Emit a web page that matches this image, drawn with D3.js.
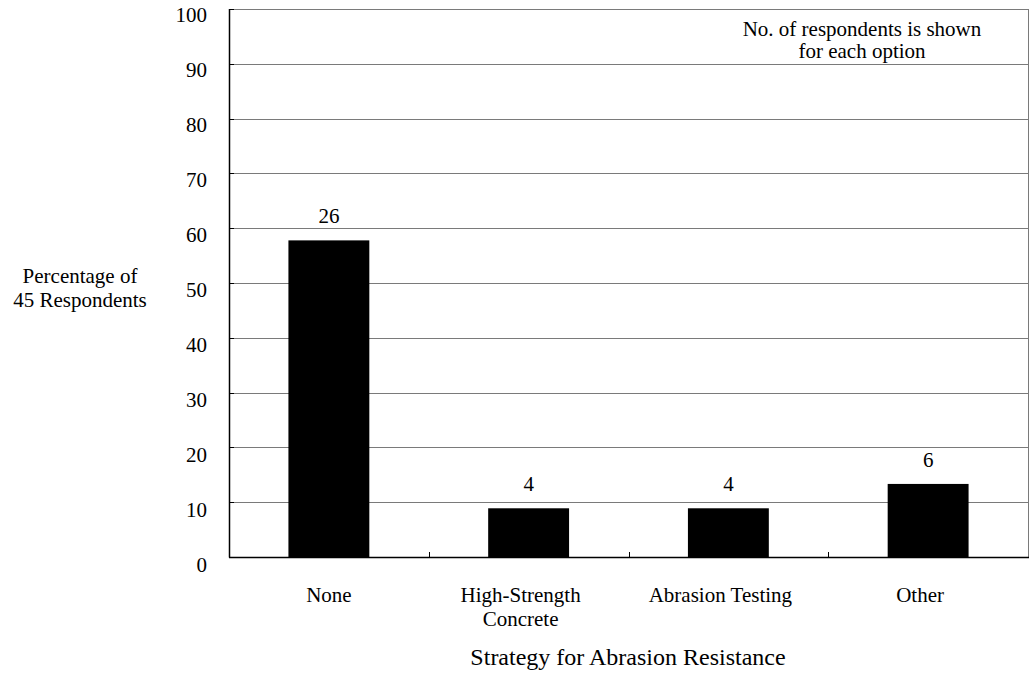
<!DOCTYPE html>
<html><head><meta charset="utf-8">
<script src="https://cdn.jsdelivr.net/npm/d3@7"></script>
<style>
body{margin:0;background:#fff;}
</style></head>
<body><svg id="c" width="1029" height="673" font-family="'Liberation Serif', 'Times New Roman', Tinos, 'DejaVu Serif', serif"></svg>
<script>
const categories = ["None", "High-Strength\nConcrete", "Abrasion Testing", "Other"];
const respondents = [26, 4, 4, 6];
const totalRespondents = 45;
const yTicks = [0, 10, 20, 30, 40, 50, 60, 70, 80, 90, 100];

const svg = d3.select("#c");
const m = {left: 229, right: 1028, top: 9, bottom: 557};
const fs = 21;

const x = d3.scaleBand().domain(categories).range([m.left, m.right]).paddingInner(0).paddingOuter(0);
const y = d3.scaleLinear().domain([0, 100]).range([m.bottom, m.top]);
const yLab = d3.scaleLinear().domain([0, 100]).range([565, 15]);
const barW = x.bandwidth() * 0.405;

svg.append("g").selectAll("line").data(yTicks.filter(d => d > 0)).join("line")
  .attr("x1", m.left).attr("x2", m.right)
  .attr("y1", d => Math.round(y(d)) + 0.5).attr("y2", d => Math.round(y(d)) + 0.5)
  .attr("stroke", "#7a7a7a").attr("stroke-width", 1);
svg.append("line").attr("x1", m.right + 0.5).attr("x2", m.right + 0.5)
  .attr("y1", m.top).attr("y2", m.bottom).attr("stroke", "#7a7a7a");

svg.append("g").selectAll("rect").data(categories).join("rect")
  .attr("x", d => x(d) + x.bandwidth() / 2 - barW / 2)
  .attr("width", barW)
  .attr("y", (d, i) => y(respondents[i] / totalRespondents * 100))
  .attr("height", (d, i) => m.bottom - y(respondents[i] / totalRespondents * 100))
  .attr("fill", "#000");

svg.append("g").selectAll("text").data(categories).join("text")
  .attr("x", d => x(d) + x.bandwidth() / 2)
  .attr("y", (d, i) => y(respondents[i] / totalRespondents * 100) - 17)
  .attr("text-anchor", "middle").attr("font-size", fs)
  .text((d, i) => respondents[i]);

svg.append("line").attr("x1", m.left + 0.5).attr("x2", m.left + 0.5)
  .attr("y1", m.top).attr("y2", m.bottom + 0.5).attr("stroke", "#000").attr("stroke-width", 1.5);
svg.append("line").attr("x1", m.left).attr("x2", m.right + 1)
  .attr("y1", m.bottom + 0.5).attr("y2", m.bottom + 0.5).attr("stroke", "#000").attr("stroke-width", 1.5);
svg.append("g").selectAll("line").data(yTicks).join("line")
  .attr("x1", m.left).attr("x2", m.left + 5)
  .attr("y1", d => Math.round(y(d)) + 0.5).attr("y2", d => Math.round(y(d)) + 0.5)
  .attr("stroke", "#000");
svg.append("g").selectAll("line").data(categories.slice(1)).join("line")
  .attr("x1", d => Math.round(x(d)) + 0.5).attr("x2", d => Math.round(x(d)) + 0.5)
  .attr("y1", m.bottom).attr("y2", m.bottom - 5)
  .attr("stroke", "#000");

svg.append("g").selectAll("text").data(yTicks).join("text")
  .attr("x", 207).attr("y", d => yLab(d)).attr("dy", "0.35em")
  .attr("text-anchor", "end").attr("font-size", fs).text(d => d);

const xl = svg.append("g").selectAll("text").data(categories).join("text")
  .attr("y", 602).attr("text-anchor", "middle").attr("font-size", fs);
xl.each(function(d) {
  const lines = d.split("\n");
  d3.select(this).selectAll("tspan").data(lines).join("tspan")
    .attr("x", x(d) + x.bandwidth() / 2 - (d === "None" ? 0 : 8))
    .attr("dy", (l, i) => i === 0 ? 0 : 24).text(l => l);
});

svg.append("text").attr("x", 628).attr("y", 665).attr("text-anchor", "middle")
  .attr("font-size", 24).text("Strategy for Abrasion Resistance");
const yt = svg.append("text").attr("x", 80).attr("y", 283).attr("text-anchor", "middle").attr("font-size", fs);
yt.append("tspan").attr("x", 80).attr("dy", 0).text("Percentage of");
yt.append("tspan").attr("x", 80).attr("dy", 24).text("45 Respondents");

const nt = svg.append("text").attr("x", 862).attr("y", 36).attr("text-anchor", "middle").attr("font-size", fs);
nt.append("tspan").attr("x", 862).attr("dy", 0).text("No. of respondents is shown");
nt.append("tspan").attr("x", 862).attr("dy", 22).text("for each option");
</script></body></html>
